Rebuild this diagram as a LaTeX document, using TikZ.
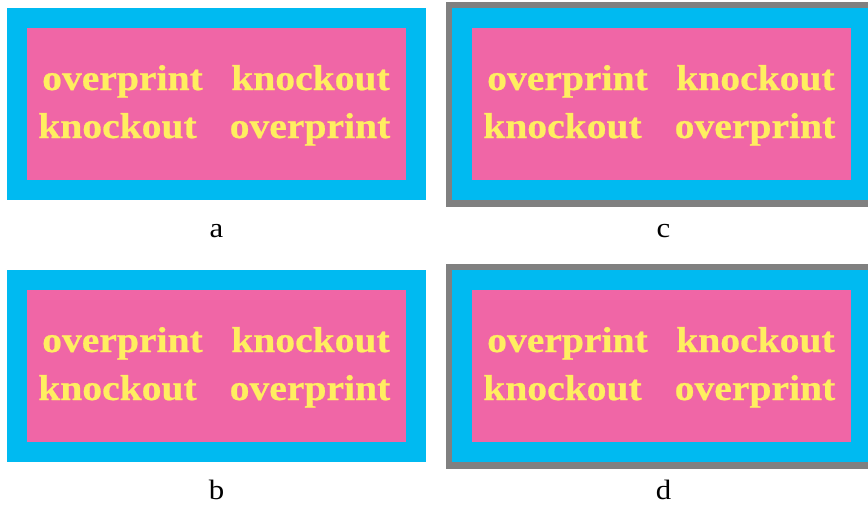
\documentclass[tikz,border=0pt]{standalone}
\usepackage{fontspec}
\setmainfont{Liberation Serif}
\newfontfamily\wordfont[FakeStretch=1.1,FakeBold=0.6]{Liberation Serif}
\newfontfamily\labfont[FakeStretch=1.1]{Liberation Serif}
\definecolor{cy}{RGB}{0,186,241}
\definecolor{pk}{RGB}{240,102,166}
\definecolor{yl}{RGB}{255,238,96}
\definecolor{gr}{RGB}{128,128,128}
\tikzset{
  outerbox/.style={fill=cy, draw=none},
  innerbox/.style={fill=pk, draw=none},
  frame/.style={fill=gr, draw=none},
  word/.style={text=yl, font=\wordfont\fontsize{36}{36}\selectfont\bfseries, inner sep=0pt, anchor=base},
  lab/.style={text=black, font=\labfont\fontsize{28}{28}\selectfont, inner sep=0pt, anchor=base}
}
\begin{document}
\begin{tikzpicture}[x=1pt,y=-1pt]
\useasboundingbox (0,0) rectangle (868,509);
% panel a
\fill[outerbox] (7,8) rectangle (426,200);
\fill[innerbox] (27,28) rectangle (406,180);
\node[word] (a1) at (122.5,90) {overprint};
\node[word] (a2) at (310.5,90) {knockout};
\node[word] (a3) at (117.5,138) {knockout};
\node[word] (a4) at (310,138) {overprint};
\node[lab] (la) at (216.5,237) {a};
% panel b
\fill[outerbox] (7,270) rectangle (426,462);
\fill[innerbox] (27,290) rectangle (406,442);
\node[word] (b1) at (122.5,352) {overprint};
\node[word] (b2) at (310.5,352) {knockout};
\node[word] (b3) at (117.5,400) {knockout};
\node[word] (b4) at (310,400) {overprint};
\node[lab] (lb) at (216.5,499) {b};
% panel c
\fill[frame] (446,2) rectangle (877,207);
\fill[outerbox] (452,8) rectangle (871,200);
\fill[innerbox] (472,28) rectangle (851,180);
\node[word] (c1) at (567.5,90) {overprint};
\node[word] (c2) at (755.5,90) {knockout};
\node[word] (c3) at (562.5,138) {knockout};
\node[word] (c4) at (755,138) {overprint};
\node[lab] (lc) at (663.5,237) {c};
% panel d
\fill[frame] (446,264) rectangle (877,469);
\fill[outerbox] (452,270) rectangle (871,462);
\fill[innerbox] (472,290) rectangle (851,442);
\node[word] (d1) at (567.5,352) {overprint};
\node[word] (d2) at (755.5,352) {knockout};
\node[word] (d3) at (562.5,400) {knockout};
\node[word] (d4) at (755,400) {overprint};
\node[lab] (ld) at (663.5,499) {d};
\end{tikzpicture}
\end{document}
